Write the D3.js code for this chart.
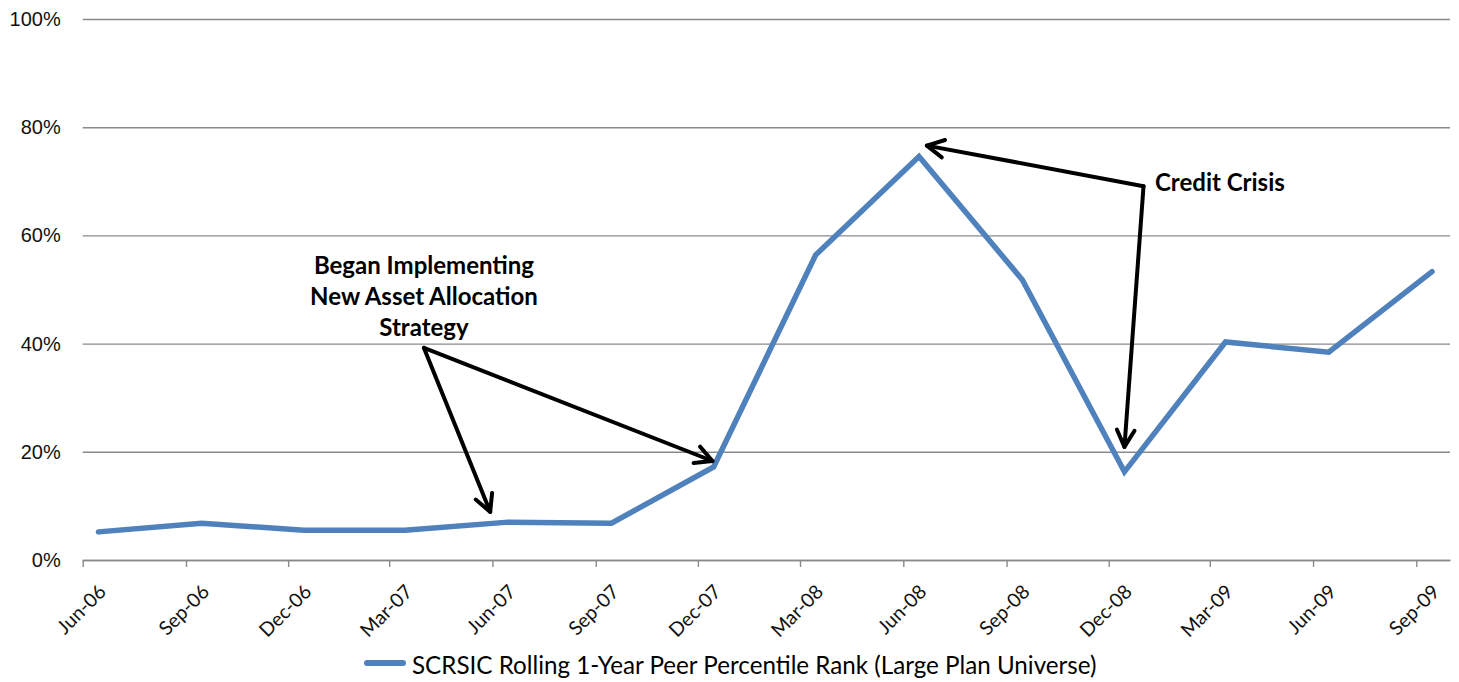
<!DOCTYPE html>
<html>
<head>
<meta charset="utf-8">
<script src="https://cdn.jsdelivr.net/npm/d3@7"></script>
<style>
  body { margin: 0; background: #fff; }
  svg { display: block; }
</style>
</head>
<body>
<svg id="chart" width="1459" height="682"></svg>
<script>
// Quarter-end observations (labels as shown on the axis)
const quarters = ["Jun-06", "Sep-06", "Dec-06", "Mar-07", "Jun-07", "Sep-07", "Dec-07",
                  "Mar-08", "Jun-08", "Sep-08", "Dec-08", "Mar-09", "Jun-09", "Sep-09"];
// Rolling 1-year peer percentile rank, in percent
const percentileRank = [5.2, 6.8, 5.5, 5.5, 7.0, 6.8, 17.2, 56.4, 74.6, 51.8, 16.3, 40.3, 38.4, 53.3];
const yTickValues = [0, 20, 40, 60, 80, 100];
const seriesName = "SCRSIC Rolling 1-Year Peer Percentile Rank (Large Plan Universe)";

// Annotations: arrows from a label anchor to the points of interest (date, percent)
const annotationLabels = [
  { lines: ["Began Implementing", "New Asset Allocation", "Strategy"] },
  { lines: ["Credit Crisis"] }
];
const annotationArrows = [
  { from: ["2007-04-01", 39.2], to: ["2007-05-30", 8.9] },
  { from: ["2007-04-01", 39.2], to: ["2007-12-14", 18.3] },
  { from: ["2009-01-01", 69.1], to: ["2008-06-22", 76.6] },
  { from: ["2009-01-01", 69.1], to: ["2008-12-15", 20.9] }
];

const parseLabel = d3.timeParse("%b-%y");
const parseDay = d3.timeParse("%Y-%m-%d");
const tickDates = quarters.map(parseLabel);
// Observations are plotted at mid-month of each labelled month
const obsDates = tickDates.map(d => d3.timeDay.offset(d, 14));

const svg = d3.select("#chart");
const plot = { left: 82.7, right: 1450, top: 19, bottom: 560 };

const x = d3.scaleTime()
  .domain([tickDates[0], d3.timeMonth.offset(tickDates[tickDates.length - 1], 1)])
  .range([plot.left, plot.right]);
const y = d3.scaleLinear().domain([0, 100]).range([plot.bottom, plot.top]);

// Horizontal gridlines + value labels
const yAxis = d3.axisLeft(y)
  .tickValues(yTickValues)
  .tickFormat(d => d + "%")
  .tickSize(-(plot.right - plot.left))
  .tickPadding(22);
const gy = svg.append("g")
  .attr("transform", `translate(${plot.left},0)`)
  .call(yAxis);
gy.select(".domain").remove();
gy.selectAll(".tick line").attr("stroke", "#8a8a8a").attr("stroke-width", 1.4);
gy.selectAll(".tick text")
  .attr("font-family", "'Liberation Sans', Arial, sans-serif")
  .attr("font-size", 20)
  .attr("fill", "#111");

// Category axis along the bottom
const xAxis = d3.axisBottom(x)
  .tickValues(tickDates)
  .tickFormat((d, i) => quarters[i])
  .tickSize(7)
  .tickSizeOuter(0);
const gx = svg.append("g")
  .attr("transform", `translate(0,${plot.bottom})`)
  .call(xAxis);
gx.select(".domain").attr("stroke", "#8a8a8a").attr("stroke-width", 1.6);
gx.selectAll(".tick line").attr("stroke", "#8a8a8a").attr("stroke-width", 1.4);
gx.selectAll(".tick text")
  .attr("font-family", "Lato, 'Open Sans', sans-serif")
  .attr("font-size", 19.5)
  .attr("fill", "#111")
  .attr("text-anchor", "end")
  .attr("dy", 0)
  .attr("y", 0)
  .attr("transform", "translate(24,33) rotate(-45)");

// Data line
const line = d3.line()
  .x((d, i) => x(obsDates[i]))
  .y(d => y(d));
svg.append("path")
  .datum(percentileRank)
  .attr("d", line)
  .attr("fill", "none")
  .attr("stroke", "#4f81bd")
  .attr("stroke-width", 5.5)
  .attr("stroke-linejoin", "miter")
  .attr("stroke-linecap", "round");

// Annotation arrows with open heads
const arrows = svg.append("g")
  .attr("stroke", "#000")
  .attr("stroke-width", 4)
  .attr("fill", "none")
  .attr("stroke-linecap", "round")
  .attr("stroke-linejoin", "round");
annotationArrows.forEach(a => {
  const x0 = x(parseDay(a.from[0])), y0 = y(a.from[1]);
  const x1 = x(parseDay(a.to[0])), y1 = y(a.to[1]);
  arrows.append("path").attr("d", `M${x0},${y0}L${x1},${y1}`);
  const ang = Math.atan2(y1 - y0, x1 - x0);
  const len = 19, spread = Math.PI / 6.5;
  const p = d3.path();
  p.moveTo(x1 - len * Math.cos(ang - spread), y1 - len * Math.sin(ang - spread));
  p.lineTo(x1, y1);
  p.lineTo(x1 - len * Math.cos(ang + spread), y1 - len * Math.sin(ang + spread));
  arrows.append("path").attr("d", p.toString());
});

// Annotation labels
const beganX = x(parseDay("2007-04-01"));
const began = svg.append("text")
  .attr("font-family", "Lato, 'Open Sans', sans-serif")
  .attr("font-weight", "bold")
  .attr("font-size", 24)
  .attr("fill", "#000")
  .attr("text-anchor", "middle");
annotationLabels[0].lines.forEach((t, i) => {
  began.append("tspan").attr("x", beganX).attr("y", 274 + i * 31).text(t);
});
svg.append("text")
  .attr("x", 1155)
  .attr("y", 191)
  .attr("font-family", "Lato, 'Open Sans', sans-serif")
  .attr("font-weight", "bold")
  .attr("font-size", 24)
  .attr("fill", "#000")
  .text(annotationLabels[1].lines[0]);

// Legend
const legend = svg.append("g").attr("transform", "translate(365,663)");
legend.append("line")
  .attr("x1", 2).attr("x2", 38).attr("y1", 0).attr("y2", 0)
  .attr("stroke", "#4f81bd").attr("stroke-width", 6).attr("stroke-linecap", "round");
legend.append("text")
  .attr("x", 47).attr("y", 11)
  .attr("font-family", "Lato, 'Open Sans', sans-serif")
  .attr("font-size", 24.2)
  .attr("fill", "#000")
  .text(seriesName);
</script>
</body>
</html>
